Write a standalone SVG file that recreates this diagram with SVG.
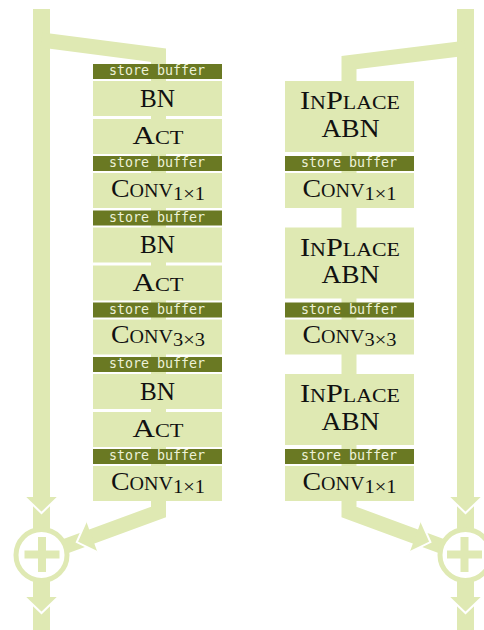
<svg xmlns="http://www.w3.org/2000/svg" width="484" height="630" viewBox="0 0 484 630">
<style>
.conn{fill:none;stroke:#dfe9b3;stroke-linejoin:miter;stroke-miterlimit:10}
.head{fill:#dfe9b3;stroke:none}
.edge{fill:none;stroke:#ffffff;stroke-width:2;stroke-linejoin:miter}
.box{fill:#dfe9b3}
.sb{fill:#6a7923}
.sbt{font-family:"DejaVu Sans Mono","Liberation Mono",monospace;font-size:13.3px;fill:#eef2d8;text-anchor:middle}
.lbl{font-family:"Liberation Serif","Times New Roman",serif;font-size:25px;fill:#111111;text-anchor:middle}
.sc{font-variant:small-caps}
.sub{font-size:18.5px;font-variant:normal}
.ring{fill:#ffffff;stroke:#dfe9b3;stroke-width:5}
.plus{fill:none;stroke:#dfe9b3;stroke-width:8}
</style>

<g id="connectors">
  <path id="skip-left" class="conn" stroke-width="17" d="M41.5,9 V630"/>
  <path id="branch-left" class="conn" stroke-width="15" d="M41.5,40 L158.5,55.2 V512 L41.5,555"/>
  <path id="skip-right" class="conn" stroke-width="17" d="M465.5,9 V630"/>
  <path id="branch-right" class="conn" stroke-width="15" d="M465.5,48.2 L349,62.6 V512 L465.5,555"/>
  <polygon class="head" points="24.8,497 58.2,497 41.5,513"/>
  <path class="edge" d="M24.8,497 L41.5,513 L58.2,497"/>
  <polygon class="head" points="24.8,597 58.2,597 41.5,613"/>
  <path class="edge" d="M24.8,597 L41.5,613 L58.2,597"/>
  <polygon class="head" points="448.8,497 482.2,497 465.5,513"/>
  <path class="edge" d="M448.8,497 L465.5,513 L482.2,497"/>
  <polygon class="head" points="448.8,597 482.2,597 465.5,613"/>
  <path class="edge" d="M448.8,597 L465.5,613 L482.2,597"/>
  <polygon class="head" points="86.1,521 97.5,552.2 76.8,542.1"/>
  <path class="edge" d="M86.1,521 L76.8,542.1 L97.5,552.2"/>
  <polygon class="head" points="421.1,521 409.7,552.2 430.4,542.1"/>
  <path class="edge" d="M421.1,521 L430.4,542.1 L409.7,552.2"/>
</g>

<!-- Left column -->
<g id="L-sb1"><rect class="sb" x="93" y="64" width="129" height="15"/><text class="sbt" x="157" y="75.3">store buffer</text></g>
<g id="L-bn1"><rect class="box" x="93" y="81" width="129" height="35"/><text class="lbl" x="157.5" y="106.7" textLength="35" lengthAdjust="spacingAndGlyphs">BN</text></g>
<g id="L-act1"><rect class="box" x="93" y="119" width="129" height="35"/><text class="lbl sc" x="158" y="144" textLength="51" lengthAdjust="spacingAndGlyphs">Act</text></g>
<g id="L-sb2"><rect class="sb" x="93" y="156" width="129" height="15"/><text class="sbt" x="157" y="167.3">store buffer</text></g>
<g id="L-conv1"><rect class="box" x="93" y="173" width="129" height="35"/><text class="lbl" x="158" y="196.7"><tspan class="sc" textLength="62" lengthAdjust="spacingAndGlyphs">Conv</tspan><tspan class="sub" dy="3" textLength="32" lengthAdjust="spacingAndGlyphs">1×1</tspan></text></g>

<g id="L-sb3"><rect class="sb" x="93" y="210.5" width="129" height="15"/><text class="sbt" x="157" y="221.8">store buffer</text></g>
<g id="L-bn2"><rect class="box" x="93" y="227.5" width="129" height="35"/><text class="lbl" x="157.5" y="253.2" textLength="35" lengthAdjust="spacingAndGlyphs">BN</text></g>
<g id="L-act2"><rect class="box" x="93" y="265.5" width="129" height="35"/><text class="lbl sc" x="158" y="290.5" textLength="51" lengthAdjust="spacingAndGlyphs">Act</text></g>
<g id="L-sb4"><rect class="sb" x="93" y="302.5" width="129" height="15"/><text class="sbt" x="157" y="313.8">store buffer</text></g>
<g id="L-conv3"><rect class="box" x="93" y="319.5" width="129" height="35"/><text class="lbl" x="158" y="343.2"><tspan class="sc" textLength="62" lengthAdjust="spacingAndGlyphs">Conv</tspan><tspan class="sub" dy="3" textLength="32" lengthAdjust="spacingAndGlyphs">3×3</tspan></text></g>

<g id="L-sb5"><rect class="sb" x="93" y="357" width="129" height="15"/><text class="sbt" x="157" y="368.3">store buffer</text></g>
<g id="L-bn3"><rect class="box" x="93" y="374" width="129" height="35"/><text class="lbl" x="157.5" y="399.7" textLength="35" lengthAdjust="spacingAndGlyphs">BN</text></g>
<g id="L-act3"><rect class="box" x="93" y="412" width="129" height="35"/><text class="lbl sc" x="158" y="437" textLength="51" lengthAdjust="spacingAndGlyphs">Act</text></g>
<g id="L-sb6"><rect class="sb" x="93" y="449" width="129" height="15"/><text class="sbt" x="157" y="460.3">store buffer</text></g>
<g id="L-conv5"><rect class="box" x="93" y="466" width="129" height="35"/><text class="lbl" x="158" y="489.7"><tspan class="sc" textLength="62" lengthAdjust="spacingAndGlyphs">Conv</tspan><tspan class="sub" dy="3" textLength="32" lengthAdjust="spacingAndGlyphs">1×1</tspan></text></g>

<!-- Right column -->
<g id="R-abn1"><rect class="box" x="285" y="81" width="129" height="71"/><text class="lbl sc" x="350" y="109.3" textLength="100" lengthAdjust="spacingAndGlyphs">InPlace</text><text class="lbl" x="350.5" y="136.7" textLength="58" lengthAdjust="spacingAndGlyphs">ABN</text></g>
<g id="R-sb1"><rect class="sb" x="285" y="156" width="129" height="15"/><text class="sbt" x="349" y="167.3">store buffer</text></g>
<g id="R-conv1"><rect class="box" x="285" y="173" width="129" height="35"/><text class="lbl" x="349.5" y="196.7"><tspan class="sc" textLength="62" lengthAdjust="spacingAndGlyphs">Conv</tspan><tspan class="sub" dy="3" textLength="32" lengthAdjust="spacingAndGlyphs">1×1</tspan></text></g>

<g id="R-abn2"><rect class="box" x="285" y="227.5" width="129" height="71"/><text class="lbl sc" x="350" y="255.8" textLength="100" lengthAdjust="spacingAndGlyphs">InPlace</text><text class="lbl" x="350.5" y="283.2" textLength="58" lengthAdjust="spacingAndGlyphs">ABN</text></g>
<g id="R-sb2"><rect class="sb" x="285" y="302.5" width="129" height="15"/><text class="sbt" x="349" y="313.8">store buffer</text></g>
<g id="R-conv3"><rect class="box" x="285" y="319.5" width="129" height="35"/><text class="lbl" x="349.5" y="343.2"><tspan class="sc" textLength="62" lengthAdjust="spacingAndGlyphs">Conv</tspan><tspan class="sub" dy="3" textLength="32" lengthAdjust="spacingAndGlyphs">3×3</tspan></text></g>

<g id="R-abn3"><rect class="box" x="285" y="374" width="129" height="71"/><text class="lbl sc" x="350" y="402.3" textLength="100" lengthAdjust="spacingAndGlyphs">InPlace</text><text class="lbl" x="350.5" y="429.7" textLength="58" lengthAdjust="spacingAndGlyphs">ABN</text></g>
<g id="R-sb3"><rect class="sb" x="285" y="449" width="129" height="15"/><text class="sbt" x="349" y="460.3">store buffer</text></g>
<g id="R-conv5"><rect class="box" x="285" y="466" width="129" height="35"/><text class="lbl" x="349.5" y="489.7"><tspan class="sc" textLength="62" lengthAdjust="spacingAndGlyphs">Conv</tspan><tspan class="sub" dy="3" textLength="32" lengthAdjust="spacingAndGlyphs">1×1</tspan></text></g>

<!-- Sum nodes -->
<g id="L-sum"><circle class="ring" cx="41.5" cy="555" r="25.5"/><path class="plus" d="M24.5,554.5 H59.5 M42,537 V572"/></g>
<g id="R-sum"><circle class="ring" cx="465.5" cy="555" r="25.5"/><path class="plus" d="M447,554.5 H482 M464.5,537 V572"/></g>
</svg>
